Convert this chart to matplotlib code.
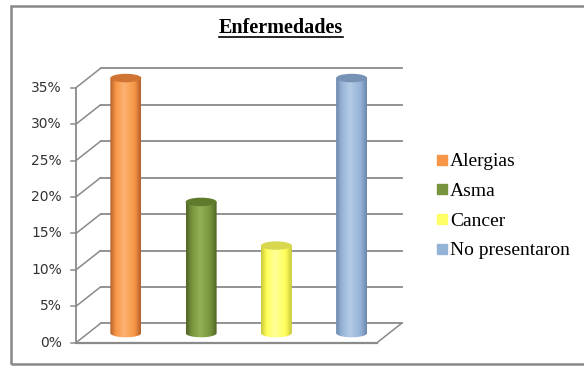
#!/usr/bin/env python3
# Enfermedades - 3D-like cylinder column chart rebuilt with plain matplotlib
import numpy as np
import matplotlib
matplotlib.use("Agg")
import matplotlib.pyplot as plt
from matplotlib.colors import LinearSegmentedColormap
from matplotlib.patches import Ellipse, PathPatch, Rectangle
from matplotlib.path import Path
from matplotlib.lines import Line2D

categories = ["Alergias", "Asma", "Cancer", "No presentaron"]
values = [35, 18, 12, 35]
yticks = [0, 5, 10, 15, 20, 25, 30, 35]
ytick_labels = ["0%", "5%", "10%", "15%", "20%", "25%", "30%", "35%"]
title = "Enfermedades"

# colours: (edge dark, base, highlight, top)
colors = [
    ("#b5602a", "#f79646", "#fcb272", "#cf7432"),
    ("#4f6526", "#77933c", "#93b257", "#5f7a2b"),
    ("#c9c93a", "#ffff5a", "#ffff9a", "#d8d850"),
    ("#6c88ad", "#95b3d7", "#b3cbe6", "#7892b6"),
]
legend_colors = ["#f79646", "#77933c", "#ffff66", "#95b3d7"]

W, H = 584, 366
fig = plt.figure(figsize=(W / 100, H / 100), dpi=100)
ax = fig.add_axes([0, 0, 1, 1])
ax.axis("off")

# pixel geometry of the front plane
px_left, px_right = 76, 377          # floor front edge
py_zero, py_per = 342.7, 7.286       # 0% row and pixels per 1%
ux = (px_right - px_left) / len(categories)
xlim = (-0.5 - px_left / ux, -0.5 + (W - px_left) / ux)
ylim = ((py_zero - H) / py_per, py_zero / py_per)
ax.set_xlim(*xlim)
ax.set_ylim(*ylim)

ddx = 24.5 / ux      # depth offset in x units
ddy = 19.3 / py_per  # depth offset in % units
grid_c = "#8a8a8a"
x0, x1 = -0.5, len(categories) - 0.5

# back wall gridlines and left wall diagonals
for v in yticks:
    ax.plot([x0 + ddx, x1 + ddx], [v + ddy, v + ddy], color=grid_c, lw=1.3, zorder=1)
    ax.plot([x0, x0 + ddx], [v, v + ddy], color=grid_c, lw=1.1, zorder=1)
    ax.plot([x0 - 5 / ux, x0], [v, v], color=grid_c, lw=1.1, zorder=1)
    ax.text(x0 - 14 / ux, v, ytick_labels[yticks.index(v)], ha="right", va="center",
            fontsize=10, color="#333333", family="DejaVu Sans")
# front axis and floor edges
ax.plot([x0, x0], [0, yticks[-1]], color=grid_c, lw=1.3, zorder=1)
ax.plot([x0, x1], [0, 0], color=grid_c, lw=1.6, zorder=1)
ax.plot([x1, x1 + ddx], [0, ddy], color=grid_c, lw=1.1, zorder=1)

# cylinders
bw = 31 / ux
eh = 8.5 / py_per
t = np.linspace(np.pi, 2 * np.pi, 30)
for i, v in enumerate(values):
    dark, base, light, top = colors[i]
    xc = i + ddx / 2
    yb = ddy / 2
    yt = v + ddy / 2
    verts = [(xc - bw / 2, yt)]
    verts += [(xc + bw / 2 * np.cos(a), yb + eh / 2 * np.sin(a)) for a in t]
    verts += [(xc + bw / 2, yt), (xc - bw / 2, yt)]
    codes = [Path.MOVETO] + [Path.LINETO] * (len(verts) - 2) + [Path.CLOSEPOLY]
    body = PathPatch(Path(verts, codes), facecolor="none", edgecolor="none", zorder=3)
    ax.add_patch(body)
    cmap = LinearSegmentedColormap.from_list(
        "c%d" % i, [(0, dark), (0.18, base), (0.45, light), (0.8, base), (1, dark)])
    im = ax.imshow(np.linspace(0, 1, 64)[None, :], cmap=cmap, aspect="auto",
                   extent=(xc - bw / 2, xc + bw / 2, yb - eh, yt), zorder=3,
                   interpolation="bilinear")
    im.set_clip_path(body)
    ax.add_patch(Ellipse((xc, yt), bw, eh, facecolor=top, edgecolor="none", zorder=4))

ax.set_xlim(*xlim)
ax.set_ylim(*ylim)

# outer frame
fig.patches.append(Rectangle((11 / W, 1 - 364 / H), (W + 5 - 11) / W, (364 - 6) / H,
                             transform=fig.transFigure, fill=False,
                             edgecolor="#888888", lw=1.8))

# title with underline
tt = fig.text(281 / W, 1 - 28 / H, title, ha="center", va="center", fontsize=14.5,
              fontweight="bold", family="Liberation Serif", color="black")
fig.canvas.draw()
bb = tt.get_window_extent(fig.canvas.get_renderer()).transformed(fig.transFigure.inverted())
fig.add_artist(Line2D([bb.x0, bb.x1], [bb.y0 + 1.0 / H, bb.y0 + 1.0 / H],
                      transform=fig.transFigure, color="black", lw=1.2))

# legend
handles = [Line2D([], [], marker="s", ls="none", markersize=6.5, color=c) for c in legend_colors]
fig.legend(handles, categories, loc="upper left", bbox_to_anchor=(426 / W, 1 - 143 / H),
           frameon=False, prop={"family": "Liberation Serif", "size": 14},
           handlelength=0.6, handletextpad=0.15, labelspacing=0.62, borderpad=0)

fig.savefig("out.png", dpi=100)
